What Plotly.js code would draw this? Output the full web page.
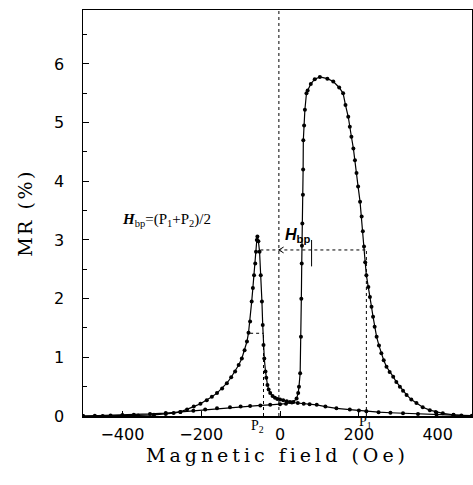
<!DOCTYPE html>
<html><head><meta charset="utf-8">
<script src="https://cdn.plot.ly/plotly-3.0.1.min.js"></script>
<style>html,body{margin:0;padding:0;background:#fff}#chart{width:473px;height:485px}</style>
</head><body><div id="chart"></div>
<script>
// Main sweep (field decreasing): big peak -> U -> small peak
const fieldMain = [487,460,440,413,395,380,362,346,333,321,312,304,295,287,278,270,263,257,251,245,240,236,232,228,224,219,216,213,210,207,203,198,194,190,186,181,177,173,166,160,150,135,120,101,88,78,70,67,63,61,59,58.5,58,56.5,55.5,55,54,53,51,48,46,42,34,25,17,8,0,-7,-13,-19,-25,-29,-32,-35,-37,-40,-42,-44,-46,-49,-52,-55,-57.5,-59,-61,-63,-66,-69,-72,-76,-80,-84,-90,-97,-105,-114,-124,-135,-147,-160,-173,-186,-202,-219,-236,-253,-270,-290,-320,-360,-400,-450,-500];
const mrMain = [0,0.01,0.02,0.045,0.07,0.10,0.15,0.22,0.28,0.36,0.43,0.50,0.58,0.67,0.75,0.84,0.95,1.07,1.20,1.35,1.52,1.69,1.86,2.03,2.20,2.40,2.62,2.89,3.15,3.40,3.65,3.91,4.14,4.36,4.56,4.76,4.93,5.10,5.30,5.50,5.60,5.70,5.75,5.78,5.74,5.66,5.55,5.50,5.22,4.95,4.70,4.20,3.77,3.28,2.90,2.60,2.00,1.35,0.73,0.50,0.39,0.30,0.24,0.24,0.25,0.27,0.28,0.29,0.31,0.34,0.39,0.45,0.53,0.65,0.76,0.98,1.21,1.55,1.95,2.40,2.80,2.98,3.06,3.00,2.80,2.60,2.40,2.18,1.95,1.61,1.42,1.27,1.12,0.98,0.87,0.76,0.66,0.56,0.47,0.39,0.33,0.27,0.21,0.16,0.11,0.07,0.05,0.035,0.02,0.01,0.005,0,0];
// Return sweep (field increasing): low baseline
const fieldBase = [-500,-470,-430,-400,-371,-330,-290,-253,-220,-190,-160,-127,-100,-76,-50,-25,0,15,30,45,60,75,93,115,143,177,200,219,250,280,312,350,397,440,487];
const mrBase = [0,0.005,0.01,0.015,0.02,0.035,0.05,0.07,0.09,0.11,0.13,0.15,0.16,0.17,0.18,0.19,0.20,0.21,0.23,0.22,0.21,0.20,0.19,0.16,0.13,0.11,0.095,0.08,0.065,0.055,0.045,0.035,0.025,0.015,0.005];
const xTicks = [-400,-200,0,200,400];
const yTicks = [0,1,2,3,4,5,6];
const P1 = 219, P2 = -42, HbpLevel = 2.83, Hbp = 80;

const traceStyle = {mode:'lines+markers', line:{color:'#000',width:1.2}, marker:{color:'#000',size:4}, showlegend:false, hoverinfo:'skip'};
const data = [
  Object.assign({x:fieldMain, y:mrMain, type:'scatter'}, traceStyle),
  Object.assign({x:fieldBase, y:mrBase, type:'scatter'}, traceStyle)
];
const dot = {color:'#000', width:1, dash:'dot'};
const layout = {
  width:473, height:485,
  margin:{l:83, r:1, t:10, b:69},
  paper_bgcolor:'#fff', plot_bgcolor:'#fff',
  xaxis:{range:[-500,487], tickvals:xTicks, ticktext:xTicks.map(v=>v<0?'\u2212'+Math.abs(v):String(v)),
    ticks:'inside', ticklen:5, tickcolor:'#000', showgrid:false, zeroline:false,
    showline:true, linecolor:'#000', linewidth:1.5, mirror:true, ticklabelstandoff:3,
    tickfont:{family:'DejaVu Sans', size:16, color:'#000'},
    title:{text:'Magnetic field (Oe)', font:{family:'DejaVu Serif', size:19, color:'#000'}, standoff:6}},
  yaxis:{range:[0,6.92], tickvals:yTicks, ticks:'inside', ticklen:6, tickcolor:'#000',
    minor:{dtick:0.5, ticks:'inside', ticklen:4, tickcolor:'#000'},
    showgrid:false, zeroline:false, showline:true, linecolor:'#000', linewidth:1.5, mirror:true,
    ticklabelstandoff:14,
    tickfont:{family:'DejaVu Sans', size:16, color:'#000'},
    title:{text:'MR (%)', font:{family:'DejaVu Serif', size:19, color:'#000'}, standoff:16}},
  shapes:[
    {type:'line', xref:'x', yref:'y', x0:-3, x1:-3, y0:0, y1:6.92, line:dot},
    {type:'line', xref:'x', yref:'y', x0:-50, x1:P1, y0:HbpLevel, y1:HbpLevel, line:dot},
    {type:'line', xref:'x', yref:'y', x0:P1, x1:P1, y0:0, y1:HbpLevel, line:dot},
    {type:'line', xref:'x', yref:'y', x0:P2, x1:P2, y0:0, y1:1.41, line:dot},
    {type:'line', xref:'x', yref:'y', x0:-76, x1:P2, y0:1.41, y1:1.41, line:dot},
    {type:'line', xref:'x', yref:'y', x0:Hbp, x1:Hbp, y0:2.55, y1:3.0, line:{color:'#000', width:1}},
    {type:'path', xref:'x', yref:'y', path:'M 9,2.88 L -3,2.83 L 9,2.78', line:{color:'#000', width:1}}
  ],
  annotations:[
    {xref:'x', yref:'y', x:-287, y:3.34, showarrow:false,
     text:'<b><i>H</i></b><sub>bp</sub>=(P<sub>1</sub>+P<sub>2</sub>)/2',
     font:{family:'Liberation Serif', size:15, color:'#000'}},
    {xref:'x', yref:'y', x:43, y:3.07, showarrow:false,
     text:'<b><i>H</i><sub>bp</sub></b>',
     font:{family:'Liberation Sans', size:16, color:'#000'}},
    {xref:'x', yref:'paper', x:-56, y:-0.027, yanchor:'middle', showarrow:false, text:'P<sub>2</sub>',
     font:{family:'Liberation Serif', size:14, color:'#000'}},
    {xref:'x', yref:'paper', x:218, y:-0.017, yanchor:'middle', showarrow:false, text:'P<sub>1</sub>',
     font:{family:'Liberation Serif', size:14, color:'#000'}}
  ]
};
Plotly.newPlot('chart', data, layout, {staticPlot:true, displayModeBar:false}).then(function(){
  var xt = document.querySelector('.xtitle');
  if (xt) xt.setAttribute('letter-spacing', '4px');
  var yt = document.querySelector('.ytitle');
  if (yt) yt.setAttribute('letter-spacing', '2.5px');
});
</script></body></html>
